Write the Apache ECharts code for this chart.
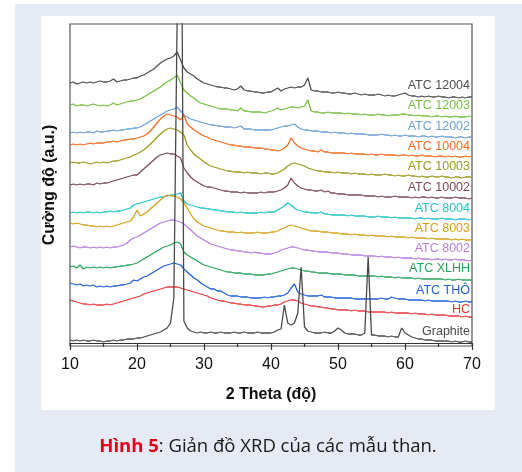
<!DOCTYPE html>
<html>
<head>
<meta charset="utf-8">
<script src="https://cdn.jsdelivr.net/npm/echarts@6/dist/echarts.min.js"></script>
<style>
html,body{margin:0;padding:0;background:#ffffff;}
#bg{position:absolute;left:15px;top:4px;width:507px;height:468px;background:#e5eaf5;}
#panel{position:absolute;left:41px;top:16px;width:454px;height:394px;background:#ffffff;}
#chart{position:absolute;left:0;top:0;width:522px;height:472px;}
</style>
</head>
<body>
<div id="bg"></div>
<div id="panel"></div>
<div id="chart"></div>
<script>
// 2-theta sampling positions (degrees), 10 → 70 every 0.5°
const theta = Array.from({length:121}, (_, i) => 10 + i * 0.5);
const xTicks = [10, 20, 30, 40, 50, 60, 70];

const seriesNames = ['ATC 12004','ATC 12003','ATC 12002','ATC 10004','ATC 10003','ATC 10002',
  'ATC 8004','ATC 8003','ATC 8002','ATC XLHH','ATC THÔ','HC','Graphite'];
const seriesColors = ['#4f4f4f','#76bf40','#6b9fd6','#f26b21','#9b9b1e','#7a4a5a',
  '#20c4c8','#d6a11a','#b67de0','#2aa35c','#1f60d6','#e8393d','#4a4a4a'];
// vertical position (intensity units) of each trace's name label
const labelLevels = [257,237,216,196,176,155,134,114,94,74,52,33,11];

// intensities (a.u., stacked offsets as in the figure)
const atc12004 = [
 260,261,259,260,261,260,261,260,261,262,
 261,261,262,264,261,262,263,263,264,265,
 265,267,268,270,272,274,277,280,282,284,
 285,287,291,283,275,271,269,267,264,262,
 260,259,258,257,256,256,255,255,254,253,
 254,257,253,252,252,251,251,250,250,251,
 251,253,255,252,254,255,256,255,256,256,
 258,265,253,252,252,251,251,251,250,250,
 251,250,250,249,249,250,249,248,249,248,
 248,248,249,248,247,248,247,247,248,249,
 250,248,247,247,246,247,246,247,246,246,
 247,246,246,245,246,246,245,246,245,246,
 246];
const atc12003 = [
 238,239,237,238,238,237,238,239,238,237,
 238,237,238,240,238,239,240,241,242,242,
 243,244,246,248,250,252,254,256,259,261,
 263,265,268,260,253,250,247,245,242,240,
 239,238,237,236,235,234,234,234,233,233,
 232,235,232,232,231,231,231,231,230,231,
 232,233,235,233,234,235,236,236,235,236,
 237,243,232,231,231,230,230,231,230,230,
 230,230,229,230,229,229,229,228,229,228,
 228,228,229,228,228,227,228,228,228,229,
 229,228,228,227,228,227,227,227,226,227,
 227,226,227,226,226,227,226,226,226,227,
 226];
const atc12002 = [
 210,211,210,211,210,211,211,210,212,211,
 211,212,212,213,212,213,213,214,214,215,
 215,216,218,220,222,224,226,228,230,232,
 233,234,236,232,228,226,224,223,222,221,
 220,219,218,218,217,217,216,216,216,215,
 216,217,214,214,214,213,213,213,213,213,
 213,214,215,216,217,217,218,219,216,214,
 213,213,212,212,212,211,211,211,210,211,
 210,210,210,209,210,209,209,209,209,208,
 208,208,208,209,208,208,207,208,207,207,
 208,207,207,207,206,207,207,206,207,206,
 206,207,206,206,206,205,206,206,205,206,
 206];
const atc10004 = [
 198,199,198,199,198,199,200,199,200,200,
 200,201,201,202,201,202,203,203,204,204,
 205,206,207,209,212,216,220,224,227,229,
 228,227,226,223,228,219,216,213,211,209,
 207,206,204,203,202,201,200,199,198,198,
 197,197,196,196,196,195,195,195,194,194,
 193,193,192,193,195,198,205,200,197,195,
 194,193,192,192,191,193,191,191,190,190,
 190,190,190,189,190,189,189,189,189,188,
 189,188,188,189,188,188,188,188,187,188,
 188,187,188,187,187,188,187,187,187,186,
 187,187,186,187,186,187,186,186,187,186,
 187];
const atc10003 = [
 180,181,180,180,181,180,179,180,181,180,
 181,180,181,182,182,183,184,185,186,188,
 189,191,193,196,199,202,206,209,212,214,
 215,214,213,211,208,198,193,189,186,184,
 181,179,177,176,175,174,173,172,172,171,
 171,171,170,171,170,170,170,169,170,170,
 169,169,170,172,174,177,179,180,179,178,
 177,175,174,173,172,172,171,171,171,170,
 171,170,170,170,169,170,169,169,169,168,
 169,168,168,168,169,168,168,167,168,167,
 167,168,167,167,166,167,166,166,167,166,
 166,167,166,166,165,166,166,165,166,166,
 166];
const atc10002 = [
 158,159,158,159,158,159,159,158,160,159,
 160,160,161,162,163,164,165,166,167,168,
 168,171,174,177,180,183,186,188,189,190,
 189,189,187,185,175,170,166,163,161,159,
 157,156,156,155,154,153,152,152,151,151,
 151,150,151,150,150,150,150,151,150,151,
 151,151,152,153,155,158,165,160,157,155,
 154,153,153,152,152,153,151,152,150,150,
 149,149,149,148,148,148,148,148,147,147,
 147,147,146,147,146,146,146,147,146,146,
 146,146,145,146,145,146,146,145,146,145,
 145,146,145,145,145,146,145,145,145,144,
 145];
const atc8004 = [
 130,131,130,131,130,131,131,130,131,130,
 131,131,132,131,132,132,133,134,135,138,
 139,140,141,142,143,144,145,146,146,147,
 148,148,149,150,142,139,138,137,136,135,
 135,134,134,133,133,132,132,131,131,131,
 130,131,130,130,130,130,130,131,130,131,
 131,131,133,135,137,140,138,135,133,132,
 131,131,130,130,130,131,129,129,128,128,
 128,128,128,127,128,127,127,127,127,126,
 126,126,127,126,126,126,125,126,125,125,
 125,125,125,124,125,125,124,125,124,124,
 124,125,124,124,124,123,124,124,124,123,
 124];
const atc8003 = [
 120,119,120,119,118,118,117,117,116,117,
 116,117,116,117,118,119,120,121,122,126,
 133,127,129,131,134,137,140,143,146,148,
 147,147,146,144,140,135,129,124,121,119,
 117,116,115,114,113,112,112,111,111,111,
 110,111,110,110,110,110,111,110,110,110,
 111,111,112,114,115,117,118,117,116,115,
 114,113,112,112,112,111,111,111,110,110,
 110,109,109,109,108,109,108,108,108,107,
 108,107,107,107,107,106,107,106,106,106,
 106,105,106,105,105,105,105,104,105,104,
 104,104,104,104,103,104,103,104,103,103,
 103];
const atc8002 = [
 96,97,96,95,96,96,95,96,95,96,
 95,96,95,96,96,97,98,100,103,105,
 106,108,110,112,114,116,118,120,121,122,
 123,123,122,121,119,116,113,110,107,105,
 103,101,99,98,97,96,95,94,93,93,
 92,92,91,91,90,91,90,90,89,89,
 89,90,91,93,94,95,96,96,95,94,
 93,93,92,92,91,91,91,91,90,90,
 90,89,89,89,88,88,88,88,87,87,
 87,87,86,87,86,86,86,85,86,85,
 85,85,85,84,85,84,84,84,83,84,
 84,83,84,83,83,84,83,83,83,82,
 83];
const atcXLHH = [
 76,77,75,78,74,76,75,76,75,76,
 75,76,75,76,76,77,77,78,78,79,
 80,82,84,86,88,90,92,94,96,97,
 98,100,101,99,91,88,86,84,82,80,
 78,77,76,75,74,73,72,71,71,70,
 70,70,69,69,69,68,68,68,68,69,
 69,70,71,72,73,74,75,75,74,73,
 72,72,71,71,70,70,70,70,69,69,
 69,69,68,68,68,68,67,67,67,67,
 67,67,66,67,66,66,66,65,66,65,
 65,65,65,64,65,64,64,64,64,64,
 64,64,63,64,63,63,64,63,63,63,
 63];
const atcTho = [
 60,59,58,59,57,58,57,58,56,57,
 56,57,56,57,57,58,58,59,60,63,
 62,64,66,67,69,71,73,75,77,78,
 79,80,79,78,74,71,68,65,63,60,
 58,56,54,54,52,52,50,48,47,47,
 47,46,46,46,45,45,45,45,46,45,
 46,46,47,47,48,50,55,59,51,49,
 48,47,47,47,47,48,46,46,46,45,
 45,45,45,45,45,44,44,44,44,44,
 44,44,44,45,44,44,46,45,44,44,
 44,43,43,43,43,43,42,43,42,42,
 42,42,42,42,41,42,41,41,42,41,
 41];
const hc = [
 43,42,41,40,39,39,38,39,38,38,
 38,39,38,39,40,41,42,43,44,45,
 46,47,49,50,51,52,53,54,55,56,
 56,56,56,55,54,53,52,51,50,49,
 48,47,45,44,43,42,42,41,40,40,
 39,39,38,38,38,37,37,36,36,37,
 37,38,38,39,41,42,43,43,42,40,
 39,38,37,37,36,36,35,35,34,34,
 33,33,33,33,32,33,32,32,32,31,
 31,31,31,31,31,30,31,30,30,30,
 30,30,29,30,29,29,29,28,29,28,
 28,28,28,27,27,27,27,26,27,26,
 26];
const graphite = [
 3,2,3,2,3,2,2,3,2,2,
 1,2,2,3,2,3,3,4,4,4,
 5,5,6,7,8,9,10,11,13,15,
 20,45,330,600,22,15,12,11,10,11,
 10,10,11,10,10,11,10,10,10,11,
 10,10,11,10,10,10,11,10,10,10,
 10,11,13,14,38,20,18,20,30,76,
 16,12,11,10,10,10,11,10,10,12,
 15,13,10,9,9,9,8,8,10,86,
 8,8,7,7,7,6,7,6,6,15,
 10,8,6,5,4,4,3,3,3,2,
 2,2,2,2,1,2,1,1,2,1,
 1];

const allSeries = [atc12004, atc12003, atc12002, atc10004, atc10003, atc10002,
  atc8004, atc8003, atc8002, atcXLHH, atcTho, hc, graphite];

const FONT = 'Liberation Sans, Arial, sans-serif';
const chart = echarts.init(document.getElementById('chart'), null, {renderer: 'canvas'});

const option = {
  animation: false,
  backgroundColor: 'transparent',
  grid: {left: 70, right: 50, top: 24, bottom: 126, show: true,
         borderColor: '#555', borderWidth: 1.2, backgroundColor: '#ffffff'},
  xAxis: {
    type: 'value', min: 10, max: 70, interval: 10,
    axisLine: {show: true, lineStyle: {color: '#333', width: 1.2}},
    axisTick: {show: true, length: 7, lineStyle: {color: '#333', width: 1.2}},
    minorTick: {show: true, splitNumber: 2, length: 4, lineStyle: {color: '#333', width: 1.2}},
    splitLine: {show: false},
    axisLabel: {fontSize: 16, color: '#111', margin: 11, fontFamily: FONT,
      formatter: v => xTicks.includes(v) ? String(v) : ''},
    name: '2 Theta (độ)', nameLocation: 'middle', nameGap: 41,
    nameTextStyle: {fontSize: 16, fontWeight: 'bold', color: '#111', fontFamily: FONT}
  },
  yAxis: {
    type: 'value', min: -3, max: 319,
    axisLine: {show: false}, axisTick: {show: false}, axisLabel: {show: false},
    splitLine: {show: false},
    name: 'Cường độ (a.u.)', nameLocation: 'middle', nameGap: 12, nameRotate: 90,
    nameTextStyle: {fontSize: 16, fontWeight: 'bold', color: '#111', fontFamily: FONT}
  },
  series: allSeries.map((vals, k) => ({
    name: seriesNames[k],
    type: 'line',
    showSymbol: false,
    symbol: 'none',
    clip: true,
    z: 2 + k,
    lineStyle: {width: 1.3, color: seriesColors[k]},
    data: vals.map((v, i) => [theta[i], v])
  }))
};
chart.setOption(option);

const graphics = seriesNames.map((nm, k) => {
  const p = chart.convertToPixel({gridIndex: 0}, [69.7, labelLevels[k]]);
  return {type: 'text', x: p[0], y: p[1], z: 100,
    style: {text: nm, fill: seriesColors[k], font: '12.5px ' + FONT, align: 'right', verticalAlign: 'middle'}};
});
graphics.push({
  type: 'text', x: 268, y: 447, z: 100,
  style: {
    text: '{a|Hình 5}{b|: Giản đồ XRD của các mẫu than.}',
    align: 'center', verticalAlign: 'middle',
    rich: {
      a: {fill: '#e3001b', fontWeight: 'bold', fontSize: 18.5, fontFamily: 'Open Sans, Noto Sans, sans-serif'},
      b: {fill: '#1a1a1a', fontSize: 18.5, fontFamily: 'Open Sans, Noto Sans, sans-serif'}
    }
  }
});
chart.setOption({graphic: graphics});
</script>
</body>
</html>
